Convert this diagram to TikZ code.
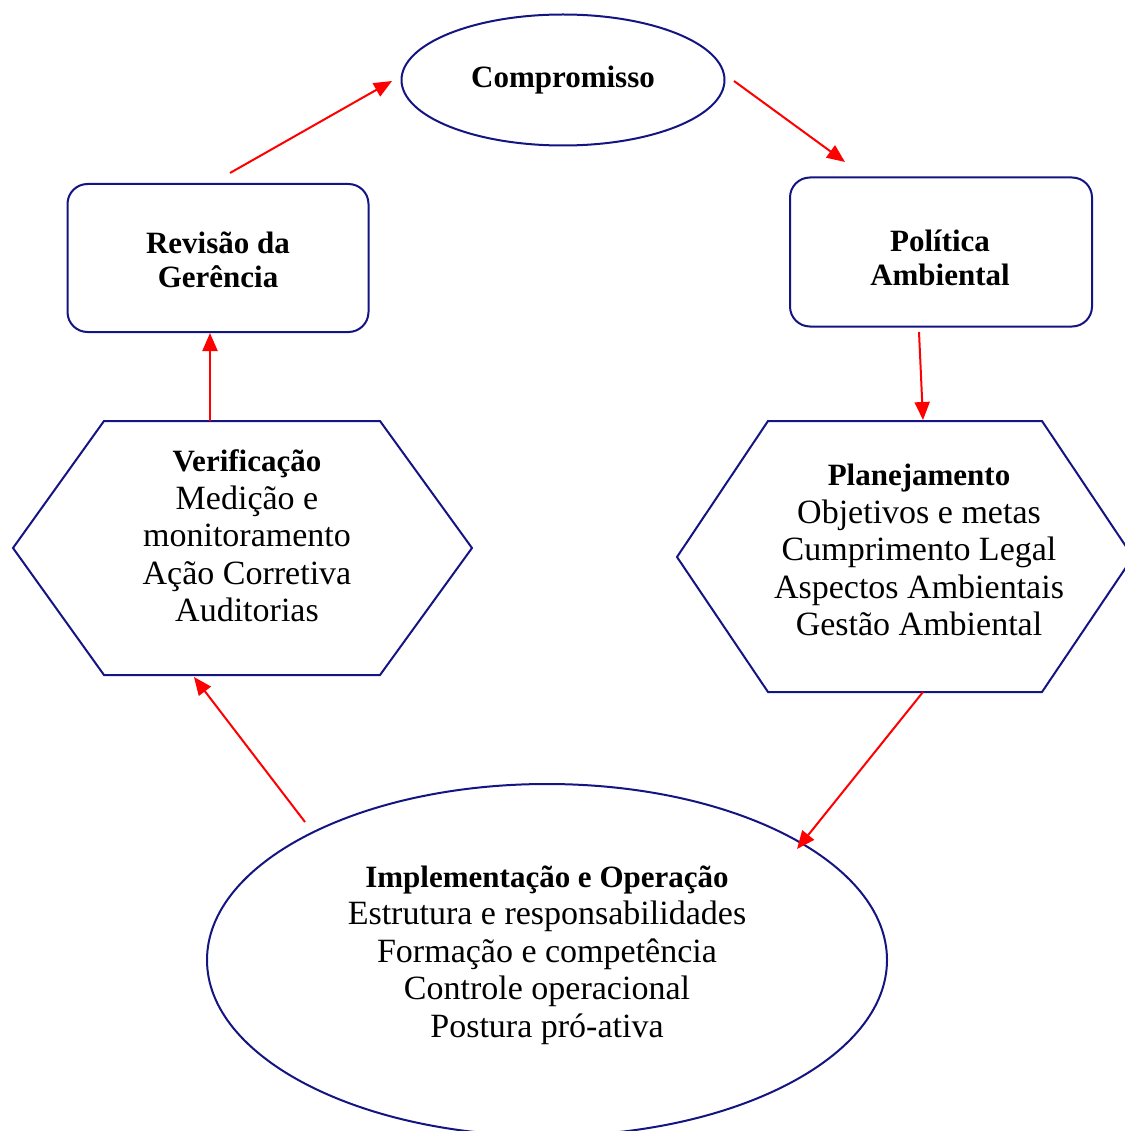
\documentclass[tikz,border=0pt]{standalone}
\usepackage{fontspec}
\setmainfont{Liberation Serif}
\usetikzlibrary{arrows.meta,shapes.geometric}
\definecolor{navyline}{RGB}{20,20,130}
\begin{document}
\begin{tikzpicture}[x=1pt,y=-1pt,
  shapeline/.style={draw=navyline, line width=2pt},
  flow/.style={draw=red, line width=2pt, -{Triangle[length=18pt,width=15pt]}},
  ttl/.style={font=\fontsize{31}{34}\selectfont\bfseries, align=center},
  body/.style={font=\fontsize{34}{37.5}\selectfont, align=center, inner sep=0pt},
]
\useasboundingbox (0,0) rectangle (1124,1131);

% top ellipse
\node[ellipse, shapeline, minimum width=323pt, minimum height=131pt, inner sep=0pt, ttl] (comp) at (563,80) {Compromisso};

% rounded boxes
\node[rectangle, rounded corners=20pt, shapeline, minimum width=301pt, minimum height=148pt] (rev) at (218,258) {};
\node[ttl, inner sep=0pt] (revt) at (218,260) {Revisão da\\Gerência};
\node[rectangle, rounded corners=20pt, shapeline, minimum width=302pt, minimum height=149pt] (pol) at (941,252) {};
\node[ttl, inner sep=0pt] (polt) at (940,258) {Política\\Ambiental};

% hexagons
\draw[shapeline] (104,421) -- (380,421) -- (472,548) -- (380,675) -- (104,675) -- (13,548) -- cycle;
\node[body] (verif) at (247,536) {\textbf{\fontsize{31}{37.5}\selectfont Verificação}\\Medição e\\monitoramento\\Ação Corretiva\\Auditorias};

\draw[shapeline] (768,421) -- (1042,421) -- (1133,557) -- (1042,692) -- (768,692) -- (677,557) -- cycle;
\node[body] (plan) at (919,550) {\textbf{\fontsize{31}{37.5}\selectfont Planejamento}\\Objetivos e metas\\Cumprimento Legal\\Aspectos Ambientais\\Gestão Ambiental};

% bottom ellipse
\node[ellipse, shapeline, minimum width=680pt, minimum height=352pt, inner sep=0pt] (impl) at (547,960) {};
\node[body] (implt) at (547,955) {\textbf{\fontsize{31}{37.5}\selectfont Implementação e Operação}\\Estrutura e responsabilidades\\Formação e competência\\Controle operacional\\Postura pró-ativa};

% connector end points
\coordinate (a1s) at (230,173); \coordinate (a1e) at (392,81);
\coordinate (a2s) at (734,81);  \coordinate (a2e) at (845,162);
\coordinate (a3s) at (919,332); \coordinate (a3e) at (923,420);
\coordinate (a4s) at (923,692); \coordinate (a4e) at (797,849);
\coordinate (a5s) at (305,822); \coordinate (a5e) at (194,677);
\coordinate (a6s) at (210,421); \coordinate (a6e) at (210,333);

\draw[flow] (a1s) -- (a1e);
\draw[flow] (a2s) -- (a2e);
\draw[flow] (a3s) -- (a3e);
\draw[flow] (a4s) -- (a4e);
\draw[flow] (a5s) -- (a5e);
\draw[flow] (a6s) -- (a6e);
\end{tikzpicture}
\end{document}
